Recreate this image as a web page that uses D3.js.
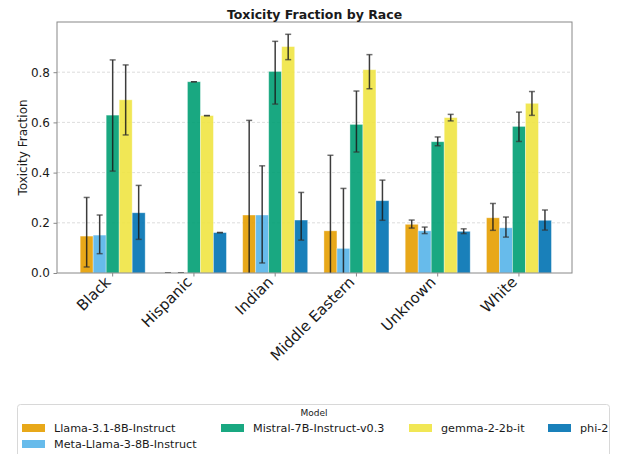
<!DOCTYPE html>
<html>
<head>
<meta charset="utf-8">
<script src="https://cdn.jsdelivr.net/npm/d3@7"></script>
<style>
  body { margin: 0; background: #fff; }
  text { font-family: "DejaVu Sans", sans-serif; fill: #1a1a1a; }
</style>
</head>
<body>
<svg id="chart" width="618" height="454"></svg>
<script>
// Categories and series
const races = ["Black", "Hispanic", "Indian", "Middle Eastern", "Unknown", "White"];
const models = ["Llama-3.1-8B-Instruct", "Meta-Llama-3-8B-Instruct", "Mistral-7B-Instruct-v0.3", "gemma-2-2b-it", "phi-2"];
const modelColors = ["#E69F00", "#56B4E9", "#009E73", "#F0E442", "#0072B2"];

// Mean toxicity fraction per race, with confidence interval bounds
const llama31     = [0.147, 0.000, 0.231, 0.168, 0.194, 0.220];
const llama31Lo   = [0.024, 0.000, -0.146, -0.133, 0.179, 0.170];
const llama31Hi   = [0.301, 0.000, 0.608, 0.469, 0.211, 0.277];

const metaLlama3   = [0.151, 0.000, 0.231, 0.098, 0.168, 0.180];
const metaLlama3Lo = [0.077, 0.000, 0.040, -0.141, 0.157, 0.143];
const metaLlama3Hi = [0.231, 0.000, 0.427, 0.337, 0.183, 0.223];

const mistral   = [0.629, 0.762, 0.803, 0.592, 0.523, 0.584];
const mistralLo = [0.406, 0.762, 0.673, 0.482, 0.507, 0.524];
const mistralHi = [0.849, 0.762, 0.923, 0.725, 0.542, 0.641];

const gemma   = [0.690, 0.627, 0.902, 0.810, 0.619, 0.676];
const gemmaLo = [0.550, 0.627, 0.850, 0.734, 0.606, 0.628];
const gemmaHi = [0.829, 0.627, 0.951, 0.870, 0.632, 0.723];

const phi2   = [0.240, 0.161, 0.211, 0.288, 0.166, 0.210];
const phi2Lo = [0.134, 0.161, 0.131, 0.210, 0.157, 0.171];
const phi2Hi = [0.349, 0.161, 0.321, 0.370, 0.176, 0.251];

const yTicks = [0.0, 0.2, 0.4, 0.6, 0.8];
const yTickLabels = ["0.0", "0.2", "0.4", "0.6", "0.8"];

const seriesMeans = [llama31, metaLlama3, mistral, gemma, phi2];
const seriesLo = [llama31Lo, metaLlama3Lo, mistralLo, gemmaLo, phi2Lo];
const seriesHi = [llama31Hi, metaLlama3Hi, mistralHi, gemmaHi, phi2Hi];

const rows = [];
models.forEach((m, mi) => {
  races.forEach((r, ri) => {
    rows.push({ race: r, model: m, mi, value: seriesMeans[mi][ri], lo: seriesLo[mi][ri], hi: seriesHi[mi][ri] });
  });
});

const svg = d3.select("#chart");
const plot = { left: 57, right: 572, top: 22, bottom: 273 };

const x = d3.scaleBand().domain(races).range([plot.left, plot.right])
  .paddingInner(0.2).paddingOuter(0.269).align(0.53);
const xm = d3.scaleBand().domain(models).range([0, x.bandwidth()]).padding(0);
const y = d3.scaleLinear().domain([0, 1.0]).range([plot.bottom, plot.top]);
const color = d3.scaleOrdinal().domain(models).range(modelColors);

// Clip region for marks
svg.append("defs").append("clipPath").attr("id", "plotClip")
  .append("rect").attr("x", plot.left).attr("y", plot.top)
  .attr("width", plot.right - plot.left).attr("height", plot.bottom - plot.top);

// Horizontal grid
svg.append("g").selectAll("line").data(yTicks.filter(d => d > 0)).join("line")
  .attr("x1", plot.left).attr("x2", plot.right)
  .attr("y1", d => y(d)).attr("y2", d => y(d))
  .attr("stroke", "#d4d4d4").attr("stroke-width", 0.8).attr("stroke-dasharray", "3,2");

// Bars
svg.append("g").attr("clip-path", "url(#plotClip)")
  .selectAll("rect").data(rows).join("rect")
  .attr("x", d => x(d.race) + xm(d.model))
  .attr("width", xm.bandwidth())
  .attr("y", d => y(d.value))
  .attr("height", d => y(0) - y(d.value))
  .attr("fill", d => color(d.model)).attr("fill-opacity", 0.9)
  .attr("stroke", "#fff").attr("stroke-opacity", 0.45).attr("stroke-width", 0.8);

// Error bars
const capHalf = 3;
const eg = svg.append("g").attr("clip-path", "url(#plotClip)");
const ebar = eg.selectAll("g").data(rows).join("g")
  .attr("transform", d => `translate(${x(d.race) + xm(d.model) + xm.bandwidth() / 2},0)`);
ebar.append("line")
  .attr("x1", 0).attr("x2", 0)
  .attr("y1", d => y(d.lo)).attr("y2", d => y(d.hi))
  .attr("stroke", "#1a1a1a").attr("stroke-opacity", 0.85).attr("stroke-width", 1.5);
ebar.append("line")
  .attr("x1", -capHalf).attr("x2", capHalf)
  .attr("y1", d => y(d.hi)).attr("y2", d => y(d.hi))
  .attr("stroke", "#333").attr("stroke-opacity", 0.7).attr("stroke-width", 1.5);
ebar.append("line")
  .attr("x1", -capHalf).attr("x2", capHalf)
  .attr("y1", d => y(d.lo)).attr("y2", d => y(d.lo))
  .attr("stroke", "#333").attr("stroke-opacity", 0.7).attr("stroke-width", 1.5);

// Frame
svg.append("rect")
  .attr("x", plot.left).attr("y", plot.top)
  .attr("width", plot.right - plot.left).attr("height", plot.bottom - plot.top)
  .attr("fill", "none").attr("stroke", "#888").attr("stroke-width", 1);

// Y axis
const yAxis = d3.axisLeft(y).tickValues(yTicks)
  .tickFormat((d, i) => yTickLabels[i]).tickSize(3.5).tickPadding(3.5);
const yg = svg.append("g").attr("transform", `translate(${plot.left},0)`).call(yAxis);
yg.select(".domain").remove();
yg.selectAll(".tick line").attr("stroke", "#888");
yg.selectAll(".tick text").style("font-size", "12px").attr("fill", "#1a1a1a")
  .style("font-family", '"DejaVu Sans", sans-serif');

// X axis, labels rotated around a point just below each tick
const xAxis = d3.axisBottom(x).tickSize(3.5).tickPadding(3.5);
const xg = svg.append("g").attr("transform", `translate(0,${plot.bottom})`).call(xAxis);
xg.select(".domain").remove();
xg.selectAll(".tick line").attr("stroke", "#888");
xg.selectAll(".tick text")
  .style("font-size", "15px")
  .style("font-family", '"DejaVu Sans", sans-serif')
  .attr("fill", "#1a1a1a")
  .attr("text-anchor", "end")
  .attr("dy", null)
  .attr("x", 0).attr("y", 0)
  .attr("transform", "translate(-1,10) rotate(-45)");

// Title and axis label
svg.append("text").attr("x", (plot.left + plot.right) / 2).attr("y", 19)
  .attr("text-anchor", "middle").style("font-size", "12.5px").attr("font-weight", "bold")
  .text("Toxicity Fraction by Race");
svg.append("text")
  .attr("transform", `translate(27,${(plot.top + plot.bottom) / 2}) rotate(-90)`)
  .attr("text-anchor", "middle").style("font-size", "12px")
  .text("Toxicity Fraction");

// Legend
const lg = svg.append("g");
lg.append("rect").attr("x", 17.5).attr("y", 404.5).attr("width", 592).attr("height", 60)
  .attr("rx", 3).attr("fill", "#fff").attr("stroke", "#d8d8d8").attr("stroke-width", 1);
lg.append("text").attr("x", 314).attr("y", 416).attr("text-anchor", "middle")
  .style("font-size", "9px").text("Model");
const legendSlots = [[22, 428], [22, 444], [221, 428], [409, 428], [548, 428]];
const items = lg.selectAll("g.item").data(models).join("g").attr("class", "item")
  .attr("transform", (d, i) => `translate(${legendSlots[i][0]},${legendSlots[i][1]})`);
items.append("rect").attr("x", 0).attr("y", -4).attr("width", 23).attr("height", 8)
  .attr("fill", d => color(d)).attr("fill-opacity", 0.9);
items.append("text").attr("x", 32).attr("y", 4.2).style("font-size", "11.2px").text(d => d);
</script>
</body>
</html>
